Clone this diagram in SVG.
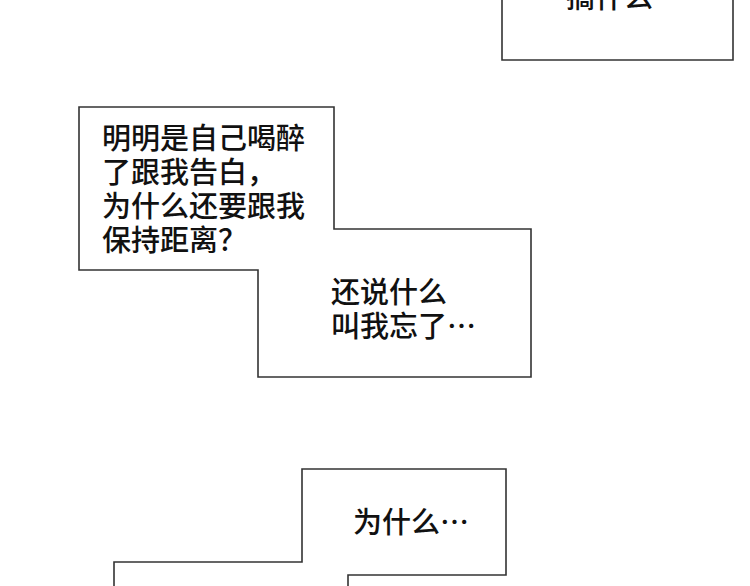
<svg xmlns="http://www.w3.org/2000/svg" width="750" height="586" viewBox="0 0 750 586">
<style>
.b{fill:#fff;stroke:#333;stroke-width:1.6}
.t{font-family:"Noto Sans CJK SC",sans-serif;font-size:29px;font-weight:500;fill:#111}
</style>
<rect width="750" height="586" fill="#fff"/>
<g id="box1"><path class="b" d="M502,-2 V60 H733 V-2"/><text class="t" x="566" y="8">搞什么</text></g>
<g id="box2"><path class="b" d="M79,107 H334 V229 H531 V377 H258 V270 H79 Z"/>
<text class="t" x="102" y="149">明明是自己喝醉</text>
<text class="t" x="102" y="183">了跟我告白，</text>
<text class="t" x="102" y="217">为什么还要跟我</text>
<text class="t" x="102" y="251">保持距离？</text>
<text class="t" x="331" y="303">还说什么</text>
<text class="t" x="331" y="337">叫我忘了…</text></g>
<g id="box3"><path class="b" d="M114,588 V562 H302 V469 H506 V575 H348 V588"/>
<text class="t" x="353" y="533">为什么…</text></g>
<g id="connectors"/>
</svg>
